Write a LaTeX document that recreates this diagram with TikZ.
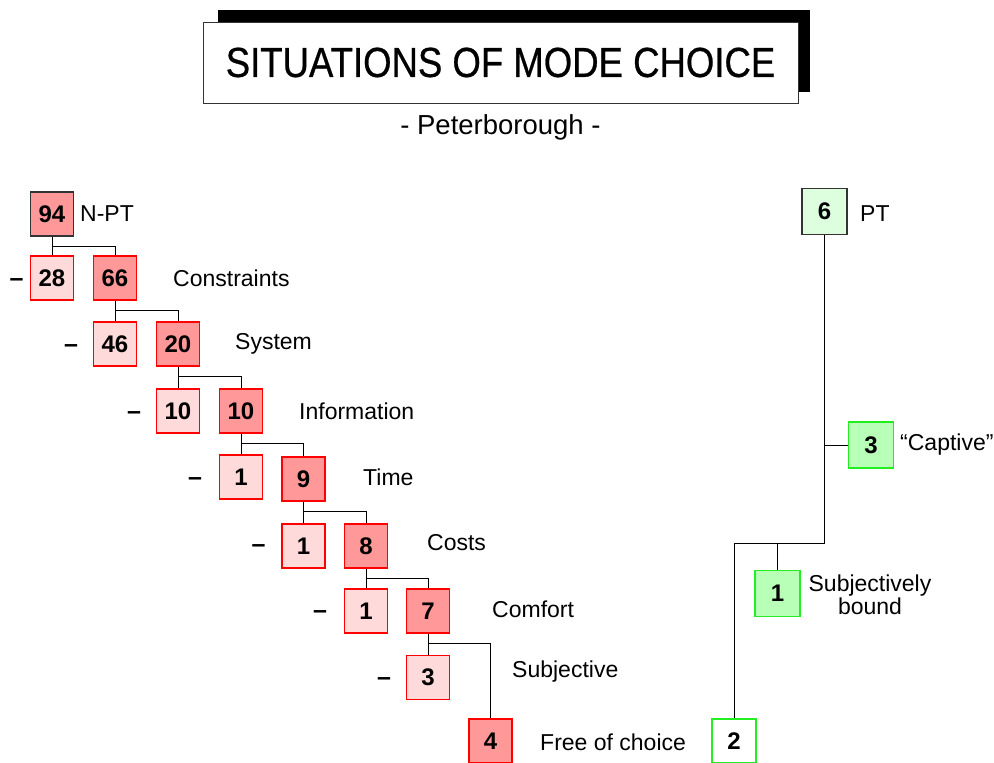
\documentclass[tikz,border=0pt]{standalone}
\usepackage{fontspec}
\setmainfont{Liberation Sans}
\newfontfamily\titlefont[FakeBold=0.7]{Liberation Sans}
\usetikzlibrary{calc}
\definecolor{darkred}{HTML}{FF9999}
\definecolor{lightred}{HTML}{FFDADA}
\definecolor{lightgreen}{HTML}{DDFFDD}
\definecolor{midgreen}{HTML}{B8FFB8}
\definecolor{greenline}{HTML}{22EE22}
\tikzset{
  numbox/.style={minimum width=43pt, minimum height=44pt, inner sep=0pt, line width=1.1pt,
    font=\bfseries\fontsize{24}{24}\selectfont},
  redbox/.style={numbox, draw=red, fill=darkred},
  palebox/.style={numbox, draw=red, fill=lightred},
  rootbox/.style={numbox, draw=black!80, fill=darkred},
  ptbox/.style={numbox, minimum width=45pt, minimum height=46pt, draw=black!80, fill=lightgreen},
  gbox/.style={numbox, minimum width=45pt, minimum height=46pt, draw=greenline, fill=midgreen},
  wbox/.style={numbox, minimum width=44pt, minimum height=44pt, draw=greenline, fill=white},
  lab/.style={anchor=west, inner sep=0pt, font=\fontsize{23}{26}\selectfont},
  dashlab/.style={anchor=base, inner sep=0pt, font=\bfseries\fontsize{25}{26}\selectfont},
  conn/.style={line width=1pt, black}
}
\begin{document}
\begin{tikzpicture}[x=1pt,y=-1pt]
\useasboundingbox (0,0) rectangle (994,763);
% title
\fill[black] (218,10) rectangle (810,92);
\node[draw=black!80, fill=white, line width=1pt, minimum width=595pt, minimum height=81pt, inner sep=0pt] (title) at (500.5,62.5)
  {\scalebox{0.87}[1]{\titlefont\fontsize{42}{42}\selectfont SITUATIONS OF MODE CHOICE}};
\node[inner sep=0pt, font=\fontsize{27.5}{30}\selectfont] (sub) at (500.5,127) {- Peterborough -};

% left chain
\node[rootbox]  (n94) at (52,214) {94};
\node[lab] (l94) at (80,214) {N-PT};

\node[palebox] (n28) at (52,278) {28};
\node[redbox]  (n66) at (115,278) {66};
\node[lab] (l66) at (173,278) {Constraints};
\node[dashlab] (d28) at (16.5,286) {–};

\node[palebox] (n46) at (115,344) {46};
\node[redbox]  (n20) at (178,344) {20};
\node[lab] (l20) at (235,344) {System};
\node[dashlab] (d46) at (71,352) {–};

\node[palebox] (n10a) at (178,411) {10};
\node[redbox]  (n10b) at (241,411) {10};
\node[lab] (l10) at (299,411) {Information};
\node[dashlab] (d10) at (134,419) {–};

\node[palebox] (n1a) at (241,477) {1};
\node[redbox]  (n9) at (303.5,479) {9};
\node[lab] (l9) at (363,477) {Time};
\node[dashlab] (d1a) at (195,485) {–};

\node[palebox] (n1b) at (303.5,546) {1};
\node[redbox]  (n8) at (366,546) {8};
\node[lab] (l8) at (427,543) {Costs};
\node[dashlab] (d1b) at (258.5,552) {–};

\node[palebox] (n1c) at (366,611) {1};
\node[redbox]  (n7) at (428,611) {7};
\node[lab] (l7) at (492,609) {Comfort};
\node[dashlab] (d1c) at (320,618) {–};

\node[palebox] (n3) at (428,677.5) {3};
\node[lab] (l3) at (512,672) {Subjective};
\node[dashlab] (d3) at (384,685) {–};

\node[redbox] (n4) at (490.5,741) {4};
\node[lab] (l4) at (540,742) {Free of choice};

% left connectors
\foreach \p/\a/\b in {n94/n28/n66, n66/n46/n20, n20/n10a/n10b, n10b/n1a/n9, n9/n1b/n8, n8/n1c/n7, n7/n3/n4}{
  \draw[conn] (\p.south) -- (\a.north);
  \draw[conn] ($(\p.south)+(0,10)$) -| (\b.north);
}

% right tree
\node[ptbox] (n6) at (824.5,211.5) {6};
\node[lab] (l6) at (860,214) {PT};
\node[gbox] (n3c) at (871,445) {3};
\node[lab] (l3c) at (900,445) {“Captive”};
\node[gbox] (n1s) at (777.5,593.5) {1};
\node[inner sep=0pt, align=center, font=\fontsize{23}{23}\selectfont] (l1s) at (870,595) {Subjectively\\bound};
\node[wbox] (n2) at (734,741) {2};

\coordinate (jr) at (n6.south |- 0,543);
\draw[conn] (n6.south) -- (jr) -| (n2.north);
\draw[conn] (n6.south |- n3c.west) -- (n3c.west);
\draw[conn] (n1s.north |- jr) -- (n1s.north);
\end{tikzpicture}
\end{document}
